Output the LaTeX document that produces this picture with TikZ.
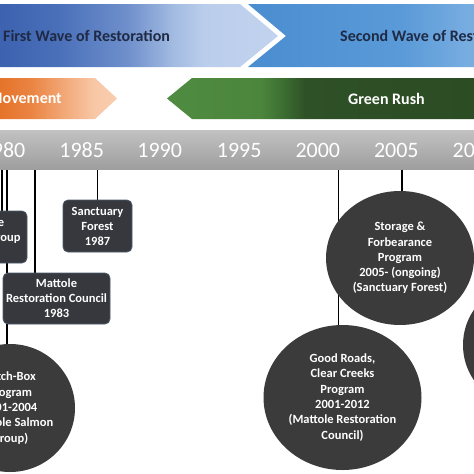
\documentclass[tikz,border=0pt]{standalone}
\usepackage{fontspec}
\setmainfont{Carlito}
\usetikzlibrary{shapes.geometric}
\definecolor{ba}{HTML}{3A60AE}
\definecolor{bb}{HTML}{4A70BA}
\definecolor{bc}{HTML}{6F90CC}
\definecolor{bd}{HTML}{A3BCE2}
\definecolor{be}{HTML}{BACDEB}
\definecolor{bf}{HTML}{C2D3EE}
\definecolor{ga}{HTML}{4F8B40}
\definecolor{gb}{HTML}{4B863C}
\definecolor{gc}{HTML}{3A6A30}
\definecolor{gd}{HTML}{2F5127}
\definecolor{ge}{HTML}{2C4C24}
\definecolor{oa}{HTML}{E46E22}
\definecolor{ob}{HTML}{EA8442}
\definecolor{oc}{HTML}{F3AD7F}
\definecolor{od}{HTML}{F8C7A6}
\definecolor{oe}{HTML}{F9CDB0}
\definecolor{sa}{HTML}{4A8DD0}
\definecolor{sb}{HTML}{5A9AD8}
\definecolor{sc}{HTML}{7DB0E2}
\definecolor{headtext}{HTML}{1F2A44}
\definecolor{boxfill}{HTML}{36383D}
\definecolor{boxline}{HTML}{4E5B6E}
\definecolor{circfill}{HTML}{3B3B3B}
\pgfdeclarehorizontalshading{waveone}{100bp}{color(0bp)=(ba); color(25bp)=(ba); color(37bp)=(bb); color(49bp)=(bc); color(57bp)=(bd); color(62bp)=(be); color(75bp)=(bf); color(100bp)=(bf)}
\pgfdeclarehorizontalshading{wavetwo}{100bp}{color(0bp)=(sa); color(25bp)=(sa); color(58bp)=(sb); color(75bp)=(sc); color(100bp)=(sc)}
\pgfdeclarehorizontalshading{greenrush}{100bp}{color(0bp)=(ga); color(25bp)=(ga); color(40bp)=(gb); color(44bp)=(gc); color(47bp)=(gd); color(75bp)=(ge); color(100bp)=(ge)}
\pgfdeclarehorizontalshading{orangemove}{100bp}{color(0bp)=(oa); color(25bp)=(oa); color(41bp)=(ob); color(56bp)=(oc); color(66bp)=(od); color(75bp)=(oe); color(100bp)=(oe)}
\pgfdeclarelayer{paper}
\pgfdeclarelayer{links}
\pgfsetlayers{paper,links,main}
\tikzset{
  headfont/.style={font=\fontsize{16}{19}\selectfont\bfseries},
  yearlabel/.style={text=white, font=\fontsize{22}{26}\selectfont, inner sep=0pt},
  eventbox/.style={fill=boxfill, draw=boxline, line width=0.8pt, rounded corners=5pt, text=white, align=center, inner sep=1pt, font=\fontsize{12.5}{15}\selectfont\bfseries},
  eventcirc/.style={ellipse, fill=circfill, text=white, align=center, inner sep=0pt, font=\fontsize{12.5}{15.3}\selectfont\bfseries},
  tickline/.style={draw=black, line width=1.2pt}
}
\begin{document}
\begin{tikzpicture}[x=1pt, y=-1pt]
\useasboundingbox (0,0) rectangle (474,474);
\clip (0,0) rectangle (474,474);
\begin{pgfonlayer}{paper}
\fill[white] (0,0) rectangle (474,474);
\end{pgfonlayer}
% top waves
\shade[shading=waveone] (-10,4) -- (240,4) -- (278,36) -- (240,67) -- (-10,67) -- cycle;
\shade[shading=wavetwo] (248,4) -- (480,4) -- (480,67) -- (248,67) -- (286,36) -- cycle;
\node[headfont, text=headtext, anchor=west, inner sep=0pt] (w1) at (3,36) {First Wave of Restoration};
\node[headfont, text=headtext, anchor=west, inner sep=0pt] (w2) at (340,36) {Second Wave of Restoration};
% middle bands
\shade[shading=orangemove] (-10,78) -- (95,78) -- (117,98.5) -- (95,119) -- (-10,119) -- cycle;
\shade[shading=greenrush] (167,98.5) -- (192,78) -- (480,78) -- (480,119) -- (192,119) -- cycle;
\node[headfont, text=white, anchor=east, inner sep=0pt] (mv) at (62,98.5) {Movement};
\node[headfont, text=white, inner sep=0pt] (gr) at (386.5,98.5) {Green Rush};
% timeline bar
\shade[top color=black!24, bottom color=black!38] (-10,130) rectangle (480,169);
\node[yearlabel] (y80) at (3,150) {1980};
\node[yearlabel] (y85) at (81.7,150) {1985};
\node[yearlabel] (y90) at (159.7,150) {1990};
\node[yearlabel] (y95) at (239.2,150) {1995};
\node[yearlabel] (y00) at (317.8,150) {2000};
\node[yearlabel] (y05) at (396.3,150) {2005};
\node[yearlabel] (y10) at (475,150) {2010};
% anchors on the bar
\coordinate (ta) at (1.5,169);
\coordinate (tb) at (7,169);
\coordinate (tc) at (35,169);
\coordinate (td) at (97.5,169);
\coordinate (te) at (338.5,169);
\coordinate (tf) at (402,169);
% events
\node[eventbox, minimum width=87pt, minimum height=52pt] (msg) at (-16.5,237) {Mattole\\Salmon Group\\1980};
\node[eventbox, minimum width=107pt, minimum height=51pt] (mrc) at (56.5,298.5) {Mattole\\Restoration Council\\1983};
\node[eventbox, minimum width=69pt, minimum height=52pt] (sf) at (97.5,226) {Sanctuary\\Forest\\1987};
\node[eventcirc, minimum width=130pt, minimum height=128pt] (cb) at (10,408) {Catch-Box\\Program\\2001-2004\\(Mattole Salmon\\Group)};
\node[eventcirc, minimum width=158pt, minimum height=145pt] (gcc) at (342.5,397.5) {Good Roads,\\Clear Creeks\\Program\\2001-2012\\(Mattole Restoration\\Council)};
\node[eventcirc, minimum width=124pt, minimum height=124pt] (rc) at (525,345) {};
\node[eventcirc, minimum width=148pt, minimum height=134pt] (sfb) at (400,258) {Storage \&\\Forbearance\\Program\\2005- (ongoing)\\(Sanctuary Forest)};
% connectors (behind shapes)
\begin{pgfonlayer}{links}
\draw[tickline, line width=2pt] (ta) -- (ta |- msg.north);
\draw[tickline] (tb) -- (tb |- cb.north);
\draw[tickline] (tc) -- (tc |- mrc.north);
\draw[tickline] (td) -- (sf.north);
\draw[tickline] (te) -- (te |- gcc.north);
\draw[tickline] (tf) -- (tf |- sfb.north);
\end{pgfonlayer}
\end{tikzpicture}
\end{document}
